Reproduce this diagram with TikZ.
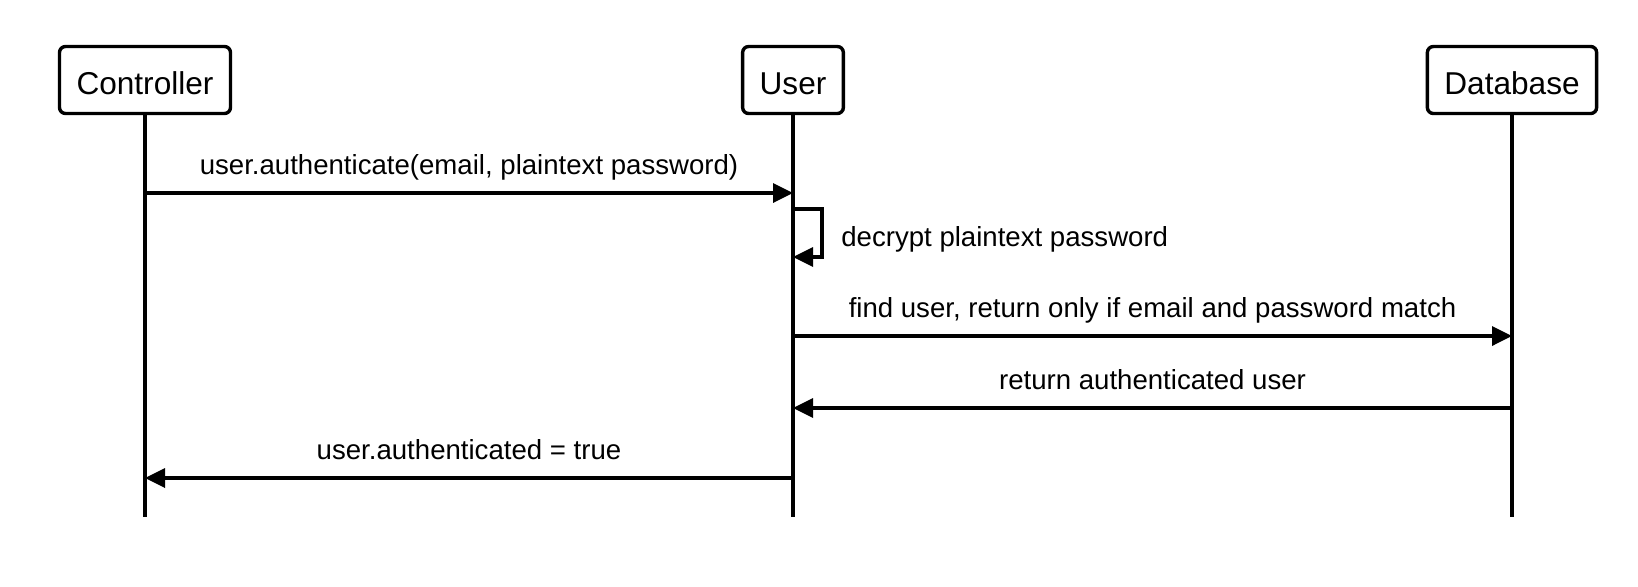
\documentclass[tikz,border=0pt]{standalone}
\usepackage{fontspec}
\setmainfont{Liberation Sans}
\usetikzlibrary{arrows.meta}

\begin{document}
\begin{tikzpicture}[x=0.5pt, y=-0.5pt, line width=1.7pt, ->, >={Triangle[length=10pt,width=9.5pt]}]
  \tikzstyle{actor}=[draw, rounded corners=3pt, minimum height=33.5pt, inner xsep=8.5pt, text height=14.6pt, text depth=0pt, font=\fontsize{15.8}{18}\selectfont]
  \tikzstyle{msgtext}=[anchor=base, yshift=9.5pt, font=\fontsize{13.8}{16}\selectfont]
  \useasboundingbox (0,0) rectangle (1638,586);
  \node[actor] (Ctrl) at (145,80) {Controller};
  \node[actor] (User) at (793,80) {User};
  \node[actor] (DB) at (1512,80) {Database};
  % lifelines
  \coordinate (Ctrl_end) at (145,517);
  \coordinate (User_end) at (793,517);
  \coordinate (DB_end) at (1512,517);
  \draw[-] (Ctrl) -- (Ctrl_end);
  \draw[-] (User) -- (User_end);
  \draw[-] (DB) -- (DB_end);
  % messages
  \coordinate (C_1) at (145,193);
  \coordinate (U_1) at (793,193);
  \coordinate (U_2) at (793,209);
  \coordinate (U_3) at (793,257);
  \coordinate (U_4) at (793,336);
  \coordinate (D_4) at (1512,336);
  \coordinate (D_5) at (1512,408);
  \coordinate (U_5) at (793,408);
  \coordinate (U_6) at (793,478);
  \coordinate (C_6) at (145,478);
  \draw (C_1) -- node[msgtext] {user.authenticate(email, plaintext password)} (U_1);
  \draw (U_2) -- ++(29,0) -- ++(0,48) -- (U_3);
  \node[anchor=base west, font=\fontsize{13.8}{16}\selectfont] (Decrypt) at (833,246) {decrypt plaintext password};
  \draw (U_4) -- node[msgtext] {find user, return only if email and password match} (D_4);
  \draw (D_5) -- node[msgtext] {return authenticated user} (U_5);
  \draw (U_6) -- node[msgtext] {user.authenticated = true} (C_6);
\end{tikzpicture}
\end{document}
